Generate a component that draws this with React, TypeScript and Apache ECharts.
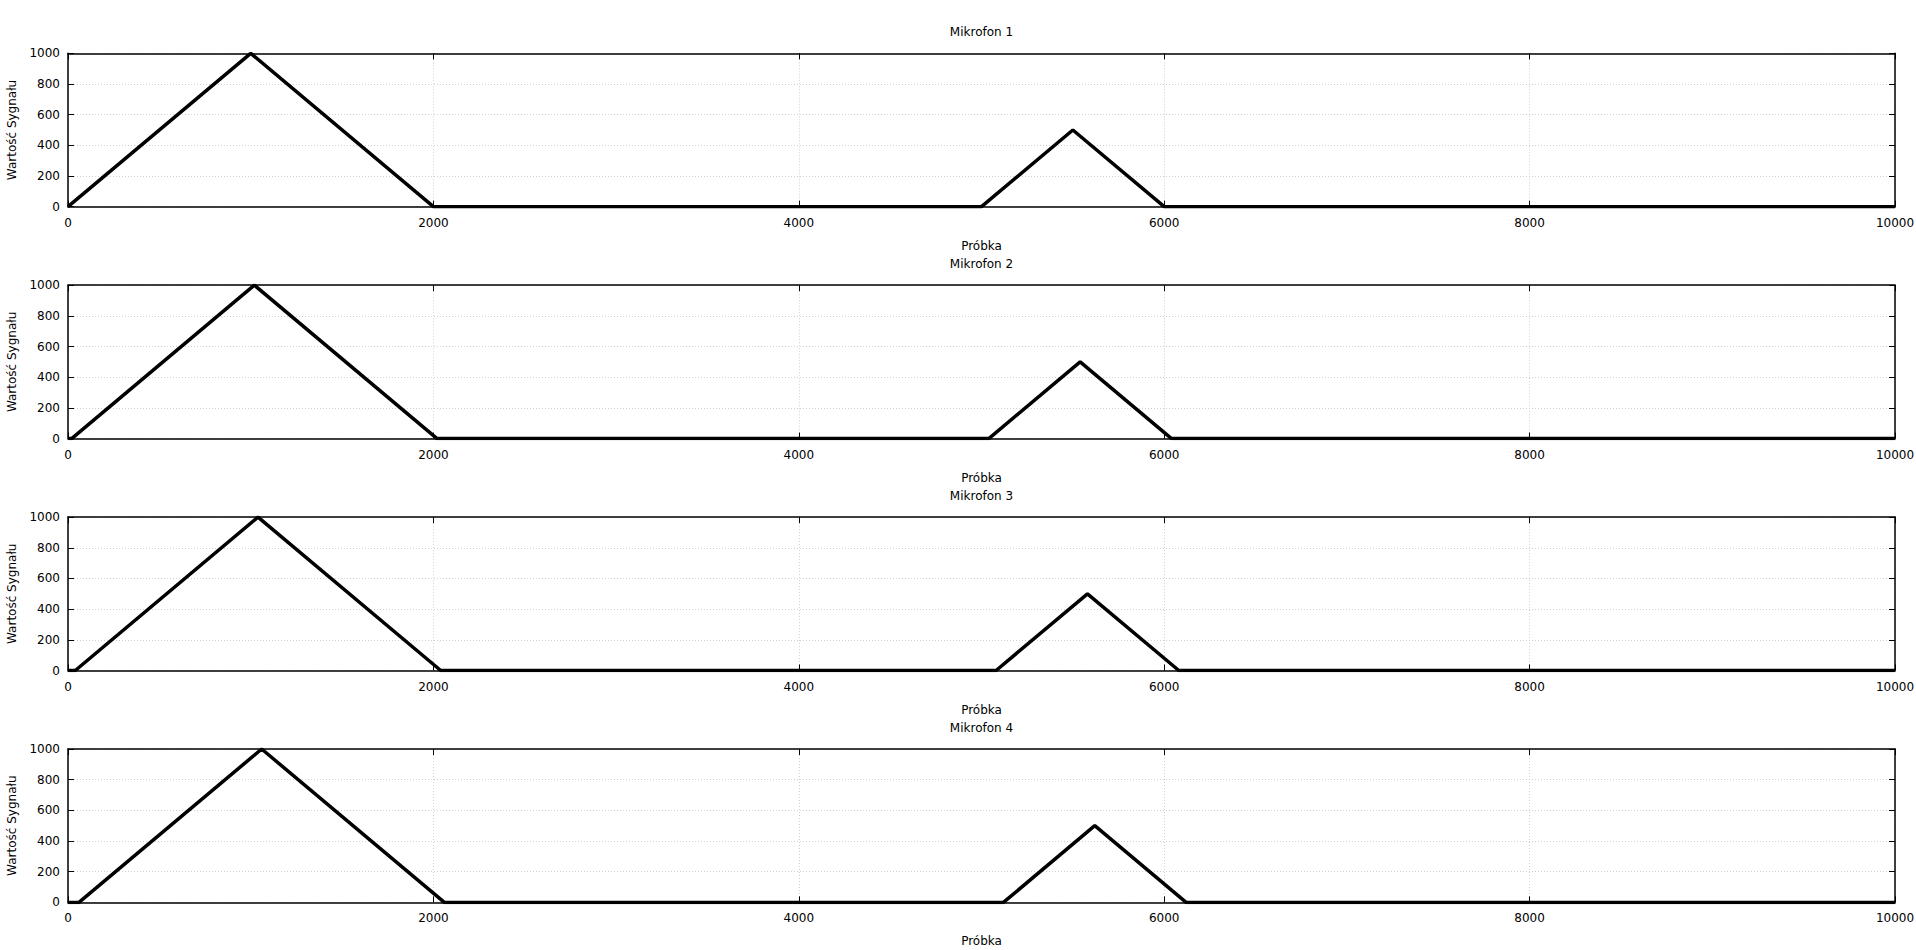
import React, { useEffect, useRef } from "react";
import * as echarts from "echarts";

const titles = ["Mikrofon 1", "Mikrofon 2", "Mikrofon 3", "Mikrofon 4"];
const xName = "Próbka";
const yName = "Wartość Sygnału";

// [sample, value] breakpoints of each microphone signal
const mic1: number[][] = [[0, 0], [1000, 1000], [2000, 0], [5000, 0], [5500, 500], [6000, 0], [10000, 0]];
const mic2: number[][] = [[0, 0], [20, 0], [1020, 1000], [2020, 0], [5040, 0], [5540, 500], [6040, 0], [10000, 0]];
const mic3: number[][] = [[0, 0], [40, 0], [1040, 1000], [2040, 0], [5080, 0], [5580, 500], [6080, 0], [10000, 0]];
const mic4: number[][] = [[0, 0], [60, 0], [1060, 1000], [2060, 0], [5120, 0], [5620, 500], [6120, 0], [10000, 0]];
const mics = [mic1, mic2, mic3, mic4];

const xMin = 0, xMax = 10000, xStep = 2000;
const yMin = 0, yMax = 1000, yStep = 200;

export default function App() {
  const ref = useRef<HTMLDivElement>(null);
  useEffect(() => {
    const chart = echarts.init(ref.current!, null, { renderer: "svg" });
    const font = "DejaVu Sans";
    const gridTop0 = 53.3;
    const gap = 231.9;
    const h = 153.4;
    const grids: any[] = [];
    const xAxes: any[] = [];
    const yAxes: any[] = [];
    const series: any[] = [];
    const graphic: any[] = [];
    const axisLine = { show: true, onZero: false, lineStyle: { color: "#000", width: 1.5 } };
    const tick = { show: true, inside: true, length: 6, lineStyle: { color: "#000", width: 1 } };
    const grid = { show: true, lineStyle: { color: "#d0d0d0", type: [1, 2], width: 1 } };
    const label = { color: "#000", fontFamily: font, fontSize: 12, formatter: (v: number) => String(v) };
    mics.forEach((m, i) => {
      const top = gridTop0 + i * gap;
      grids.push({ left: 68, right: 21, top, height: h, show: false, containLabel: false, outerBoundsMode: "none" });
      graphic.push({
        type: "text", x: 981.5, y: top - 21.5,
        style: {
          text: titles[i], fill: "#000", font: `12px "${font}"`,
          textAlign: "center", textVerticalAlign: "middle",
        },
      });
      xAxes.push({
        type: "value", gridIndex: i, min: xMin, max: xMax, interval: xStep, position: "bottom",
        name: xName, nameLocation: "middle", nameGap: 33,
        nameTextStyle: { color: "#000", fontFamily: font, fontSize: 12 },
        axisLine, axisTick: tick, splitLine: grid,
        axisLabel: { ...label, margin: 10 },
      });
      xAxes.push({
        type: "value", gridIndex: i, min: xMin, max: xMax, interval: xStep, position: "top",
        axisLine, axisTick: tick, splitLine: { show: false }, axisLabel: { show: false },
      });
      yAxes.push({
        type: "value", gridIndex: i, min: yMin, max: yMax, interval: yStep, position: "left",
        name: yName, nameLocation: "middle", nameGap: 50,
        nameTextStyle: { color: "#000", fontFamily: font, fontSize: 12 },
        axisLine, axisTick: tick, splitLine: grid,
        axisLabel: { ...label, margin: 8 },
      });
      yAxes.push({
        type: "value", gridIndex: i, min: yMin, max: yMax, interval: yStep, position: "right",
        axisLine, axisTick: tick, splitLine: { show: false }, axisLabel: { show: false },
      });
      series.push({
        type: "line", xAxisIndex: i * 2, yAxisIndex: i * 2, data: m,
        showSymbol: false, symbol: "none", z: 10,
        lineStyle: { color: "#000", width: 3.5 },
      });
    });
    chart.setOption({
      animation: false,
      backgroundColor: "#fff",
      graphic, grid: grids, xAxis: xAxes, yAxis: yAxes, series,
    });
    return () => chart.dispose();
  }, []);
  return (
    <div ref={ref} style={{ position: "fixed", left: 0, top: 0, width: 1916, height: 950 }} />
  );
}
